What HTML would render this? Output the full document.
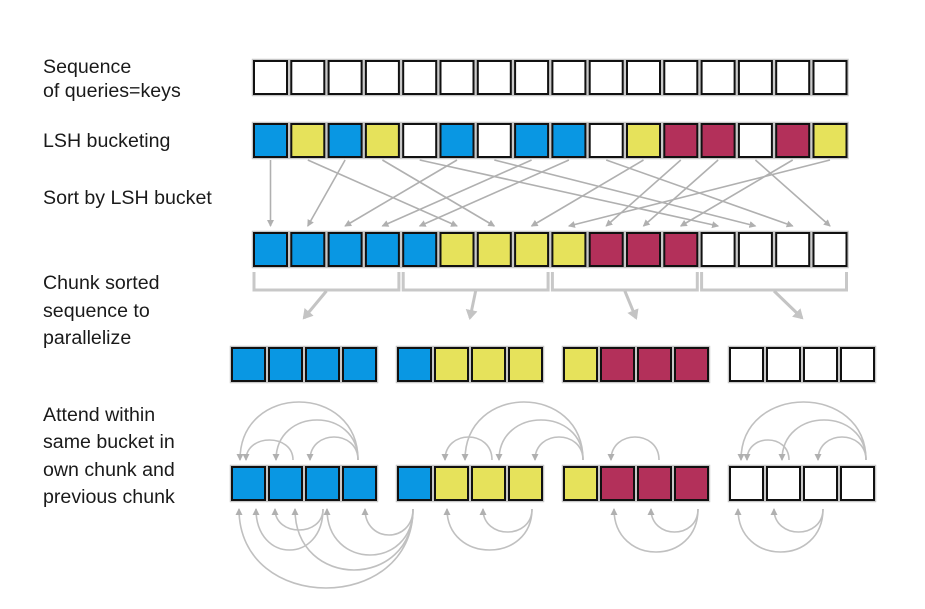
<!DOCTYPE html>
<html><head><meta charset="utf-8"><style>
html,body{margin:0;padding:0;background:#fff;}
svg{display:block;}
text{font-family:"Liberation Sans",sans-serif;font-size:19.6px;fill:#1a1a1a;}
</style></head><body>
<svg id="s" width="925" height="609" viewBox="0 0 925 609" xmlns="http://www.w3.org/2000/svg">
<defs>
<marker id="ah" markerWidth="8" markerHeight="8" refX="6" refY="4" orient="auto" markerUnits="userSpaceOnUse"><path d="M0,0.5 L7,4 L0,7.5 Z" fill="#b0b0b0"/></marker>
<marker id="ah2" markerWidth="12" markerHeight="12" refX="8" refY="6" orient="auto" markerUnits="userSpaceOnUse"><path d="M0,0 L10,6 L0,12 Z" fill="#c4c4c4"/></marker>
</defs>
<text x="43" y="73">Sequence</text>
<text x="43" y="97">of queries=keys</text>
<text x="43" y="147">LSH bucketing</text>
<text x="43" y="204">Sort by LSH bucket</text>
<text x="43" y="289">Chunk sorted</text>
<text x="43" y="317">sequence to</text>
<text x="43" y="344">parallelize</text>
<text x="43" y="421">Attend within</text>
<text x="43" y="448">same bucket in</text>
<text x="43" y="476">own chunk and</text>
<text x="43" y="503">previous chunk</text>
<g id="g"></g>
</svg>
<script>
var g=document.getElementById('g'),NS='http://www.w3.org/2000/svg';
function el(t,a){var e=document.createElementNS(NS,t);for(var k in a)e.setAttribute(k,a[k]);g.appendChild(e);return e;}
var C={B:'#0997e3',Y:'#e6e25b',R:'#b3305a',W:'#ffffff'};
function box(x,y,c){el('rect',{x:x-0.5,y:y-0.5,width:36,height:36,fill:'none',stroke:'#c8c8c8','stroke-width':1.5});
el('rect',{x:x+1,y:y+1,width:33,height:33,fill:C[c],stroke:'#111','stroke-width':2});}
var X=[];for(var i=0;i<16;i++)X.push(253+37.3*i);
var r2='BYBYWBWBBWYRRWRY',r3='BBBBBYYYYRRRWWWW';
var src=[0,2,5,7,8,1,3,10,15,11,12,14,4,6,9,13];
for(var t=0;t<16;t++){var s=src[t];el('line',{x1:X[s]+17.5,y1:160,x2:X[t]+17.5,y2:226,stroke:'#b0b0b0','stroke-width':1.6,'marker-end':'url(#ah)'});}
for(var i=0;i<16;i++){box(X[i],60,'W');box(X[i],123,r2[i]);box(X[i],232,r3[i]);}
var gx=[231,397,563,729];
for(var k=0;k<4;k++){var a=X[4*k]+1,b=X[4*k+3]+34;
el('path',{d:'M'+a+',272 V290 H'+b+' V272',fill:'none',stroke:'#c8c8c8','stroke-width':3});
var m=(a+b)/2;el('line',{x1:m,y1:291,x2:gx[k]+73,y2:318,stroke:'#c4c4c4','stroke-width':3,'marker-end':'url(#ah2)'});}
var g4=['BBBB','BYYY','YRRR','WWWW'];
for(var k=0;k<4;k++)for(var j=0;j<4;j++){box(gx[k]+37*j,347,g4[k][j]);box(gx[k]+37*j,466,g4[k][j]);}
function arc(x1,x2,y0,peak){var yc=y0+(peak-y0)*4/3;
el('path',{d:'M'+x1+','+y0+' C'+x1+','+yc+' '+x2+','+yc+' '+x2+','+y0,fill:'none',stroke:'#c0c0c0','stroke-width':1.6,'marker-end':'url(#ah)'});}
var up=[[358,240,402],[358,276,420],[358,310,437],[293,246,440],
[492,445,437],[583,465,402],[583,499,420],[583,535,437],
[659,611,437],[866,741,402],[866,782,420],[866,818,437],[789,747,440]];
up.forEach(function(a){arc(a[0],a[1],460,a[2]);});
var dn=[[413,239,588],[413,295,570],[413,327,555],[413,365,535],[323,256,550],[323,275,530],
[532,447,550],[532,483,532],[698,614,552],[698,651,532],[823,738,552],[823,774,532]];
dn.forEach(function(a){arc(a[0],a[1],509,a[2]);});
</script>
</body></html>
